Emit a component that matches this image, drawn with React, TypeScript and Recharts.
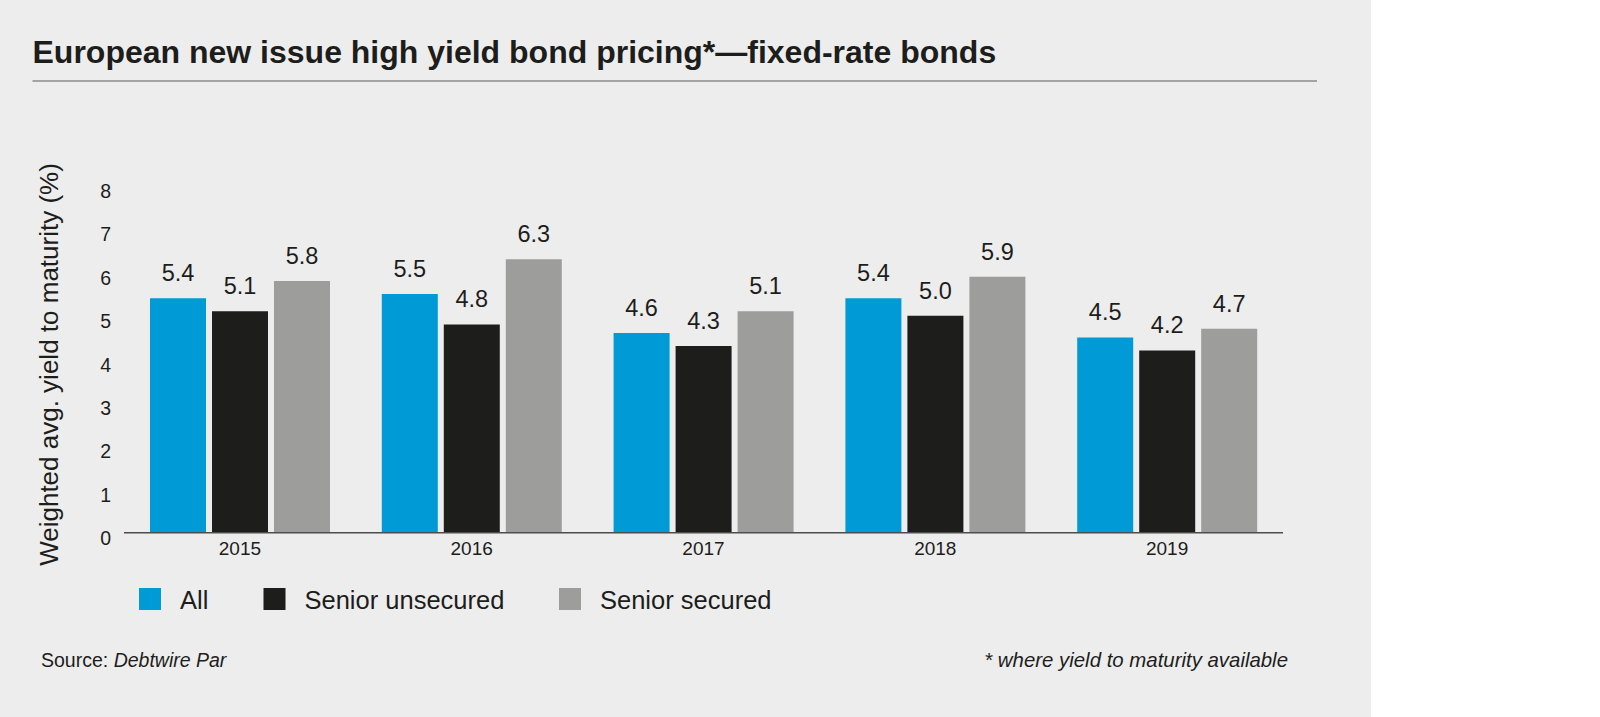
import React from 'react';
import { BarChart, Bar, XAxis, YAxis, LabelList } from 'recharts';

// chart values
const YEARS = ['2015', '2016', '2017', '2018', '2019'];
const ALL = [5.4, 5.5, 4.6, 5.4, 4.5];
const SENIOR_UNSECURED = [5.1, 4.8, 4.3, 5.0, 4.2];
const SENIOR_SECURED = [5.8, 6.3, 5.1, 5.9, 4.7];
const Y_TICKS = [0, 1, 2, 3, 4, 5, 6, 7, 8];

const SERIES = [
  { key: 'all', name: 'All', color: '#009bd6', values: ALL },
  { key: 'unsecured', name: 'Senior unsecured', color: '#1d1d1b', values: SENIOR_UNSECURED },
  { key: 'secured', name: 'Senior secured', color: '#9d9d9c', values: SENIOR_SECURED },
];

const data = YEARS.map((year, i) => {
  const row: any = { year };
  SERIES.forEach((s) => { row[s.key] = s.values[i]; });
  return row;
});

const SANS = '"Liberation Sans", Arial, Helvetica, sans-serif';
const INK = '#1d1d1b';
const PANEL = '#ededed';

const YTick = (props: any) => {
  const { x, y, payload } = props;
  return (
    <text x={x - 13} y={y + 12.5} textAnchor="end" fontFamily={SANS} fontSize={19.5} fill={INK}>
      {payload.value}
    </text>
  );
};

const XTick = (props: any) => {
  const { x, y, payload } = props;
  return (
    <text x={x} y={y + 22} textAnchor="middle" fontFamily={SANS} fontSize={19} fill={INK}>
      {payload.value}
    </text>
  );
};

// legend swatch left edges
const LEGEND_X = [139, 263.5, 559];

export default function App() {
  return (
    <div style={{ position: 'absolute', left: 0, top: 0, width: 1600, height: 717, background: '#fff', overflow: 'hidden' }}>
      <div style={{ position: 'absolute', left: 0, top: 0, width: 1371, height: 717, background: PANEL }} />

      <div style={{ position: 'absolute', left: 0, top: 0 }}>
        <BarChart
          width={1600}
          height={717}
          data={data}
          margin={{ top: 185.5, right: 317, left: 84, bottom: 144.3 }}
          barCategoryGap={26}
          barGap={6}
        >
          <XAxis
            dataKey="year"
            height={40}
            axisLine={{ stroke: '#4d4d4d', strokeWidth: 1.5 }}
            tickLine={false}
            tickSize={0}
            tickMargin={0}
            tick={<XTick />}
            interval={0}
          />
          <YAxis
            width={40}
            domain={[0, 8]}
            ticks={Y_TICKS}
            axisLine={false}
            tickLine={false}
            tickSize={0}
            tickMargin={0}
            tick={<YTick />}
            interval={0}
          />
          {SERIES.map((s) => (
            <Bar key={s.key} dataKey={s.key} name={s.name} fill={s.color} isAnimationActive={false}>
              <LabelList
                dataKey={s.key}
                position="top"
                offset={17}
                formatter={(v: any) => Number(v).toFixed(1)}
                style={{ fontFamily: SANS, fontSize: 23.5, fill: INK }}
              />
            </Bar>
          ))}
        </BarChart>
      </div>

      <svg width={1600} height={717} style={{ position: 'absolute', left: 0, top: 0, pointerEvents: 'none' }}>
        <text x={32.5} y={63} fontFamily={SANS} fontWeight="bold" fontSize={32} fill={INK}>
          European new issue high yield bond pricing*—fixed-rate bonds
        </text>
        <line x1={32.5} x2={1317} y1={81} y2={81} stroke="#8a8a8a" strokeWidth={1.5} />

        <text
          x={58}
          y={364.5}
          transform="rotate(-90 58 364.5)"
          textAnchor="middle"
          fontFamily={SANS}
          fontSize={26}
          fill={INK}
        >
          Weighted avg. yield to maturity (%)
        </text>

        {SERIES.map((s, i) => (
          <g key={s.key}>
            <rect x={LEGEND_X[i]} y={588} width={22} height={22} fill={s.color} />
            <text x={LEGEND_X[i] + 41} y={609} fontFamily={SANS} fontSize={25.5} fill={INK}>
              {s.name}
            </text>
          </g>
        ))}

        <text x={41} y={666.5} fontFamily={SANS} fontSize={19.5} fill={INK}>
          Source: <tspan fontStyle="italic">Debtwire Par</tspan>
        </text>
        <text x={1288} y={666.5} textAnchor="end" fontFamily={SANS} fontStyle="italic" fontSize={20.4} fill={INK}>
          * where yield to maturity available
        </text>
      </svg>
    </div>
  );
}
